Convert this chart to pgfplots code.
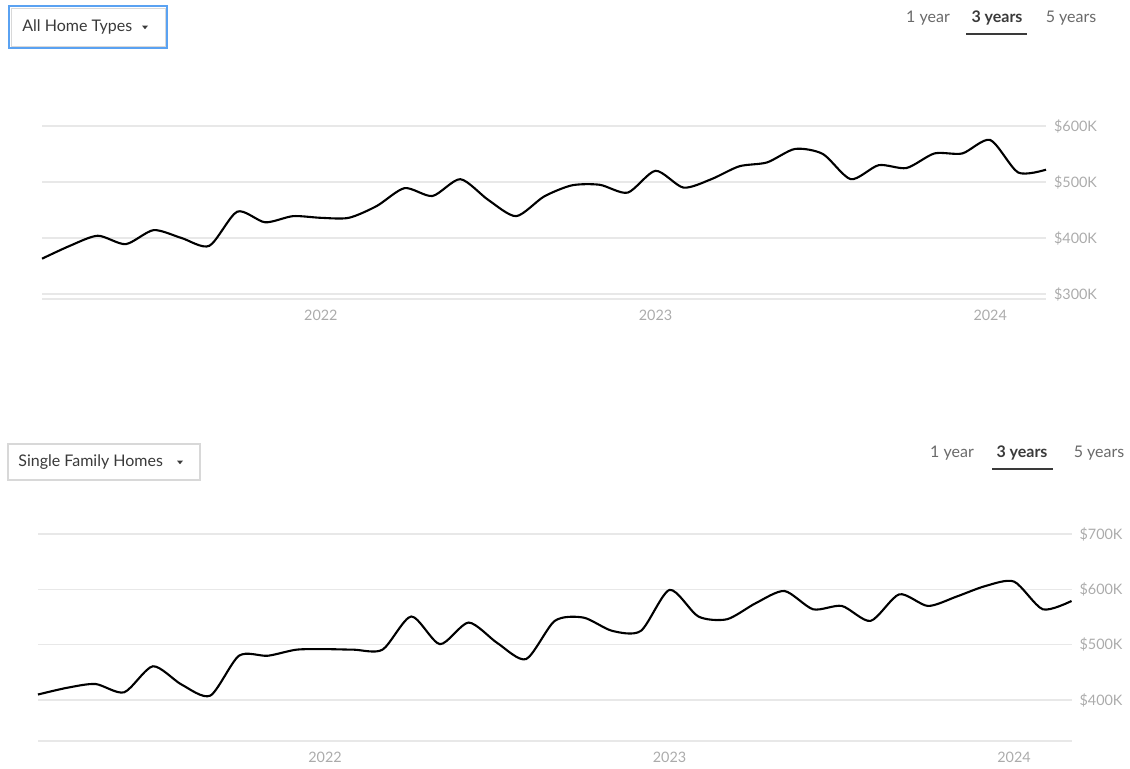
\documentclass[border=0pt]{standalone}
\usepackage{pgfplots}
\pgfplotsset{compat=1.18}
\usepackage{pgfplotstable}
\usepackage{fontspec}
\setmainfont{Lato}
\definecolor{gridc}{HTML}{E8E8E8}
\definecolor{tickc}{HTML}{ABABAB}
\definecolor{btnc}{HTML}{6A6A6A}
\definecolor{darkc}{HTML}{3A3A3A}
\definecolor{blueb}{HTML}{5AA2F2}
\definecolor{grayb}{HTML}{D8D8D8}

\pgfplotstableread{
k v
0 363
1 386
2 404
3 389
4 414
5 400
6 386
7 447
8 428
9 439
10 436
11 436
12 457
13 489
14 475
15 505
16 468
17 439
18 474
19 494
20 495
21 481
22 520
23 490
24 505
25 528
26 535
27 559
28 550
29 505
30 530
31 525
32 551
33 551
34 575
35 517
36 522
}\alltypes

\pgfplotstableread{
k v
0 410
1 422
2 429
3 414
4 461
5 428
6 408
7 480
8 480
9 491
10 492
11 491
12 491
13 551
14 501
15 540
16 503
17 474
18 543
19 549
20 525
21 525
22 599
23 551
24 546
25 575
26 597
27 564
28 570
29 543
30 591
31 570
32 587
33 606
34 614
35 564
36 579
}\single

\pgfplotsset{
  homestyle/.style={
    scale only axis,
    xmin=0, xmax=36,
    xtick={10,22,34},
    xticklabels={2022,2023,2024},
    axis line style={draw=none},
    major tick length=0pt,
    ymajorgrids=true,
    major grid style={color=gridc, line width=0.6pt},
    yticklabel pos=right,
    tick label style={font=\fontsize{7.2}{8}\selectfont, text=tickc},
    yticklabel style={anchor=west, xshift=0.5pt},
    xticklabel style={yshift=-2pt},
    clip=false,
  }
}

\begin{document}
\begin{tikzpicture}
\useasboundingbox (0pt,0pt) rectangle (565pt,384pt);

% ---- top controls ----
\draw[blueb, line width=1pt, fill=white] (4.5pt,381pt) rectangle (83.5pt,360pt);
\draw[grayb, line width=0.4pt] (5.5pt,380pt) rectangle (82.5pt,361pt);
\node[anchor=west, inner sep=0pt, text=darkc, font=\fontsize{8}{9}\selectfont] at (11pt,370.5pt) {All Home Types};
\fill[darkc] (71pt,371.2pt) -- (74pt,371.2pt) -- (72.5pt,369.4pt) -- cycle;
\node[text=btnc, font=\fontsize{8}{9}\selectfont] at (464pt,375pt) {1 year};
\node[text=darkc, font=\bfseries\fontsize{8}{9}\selectfont] at (498.5pt,375pt) {3 years};
\node[text=btnc, font=\fontsize{8}{9}\selectfont] at (535.5pt,375pt) {5 years};
\draw[darkc, line width=1.2pt] (483pt,367pt) -- (513.5pt,367pt);

% ---- top chart ----
\begin{axis}[homestyle,
  at={(21pt,234.5pt)}, anchor=south west,
  width=502pt, height=86.5pt,
  ymin=291, ymax=600,
  ytick={300,400,500,600},
  yticklabels={\$300K,\$400K,\$500K,\$600K},
]
\draw[gridc, line width=0.6pt] (rel axis cs:0,0) -- (rel axis cs:1,0);
\addplot[black, line width=1.05pt, smooth, tension=0.45] table[x=k,y=v] {\alltypes};
\end{axis}

% ---- bottom controls ----
\draw[grayb, line width=0.6pt, fill=white] (4pt,162pt) rectangle (100pt,144pt);
\node[anchor=west, inner sep=0pt, text=darkc, font=\fontsize{8}{9}\selectfont] at (9pt,153pt) {Single Family Homes};
\fill[darkc] (88.5pt,153.7pt) -- (91.5pt,153.7pt) -- (90pt,151.9pt) -- cycle;
\node[text=btnc, font=\fontsize{8}{9}\selectfont] at (476pt,157.5pt) {1 year};
\node[text=darkc, font=\bfseries\fontsize{8}{9}\selectfont] at (511pt,157.5pt) {3 years};
\node[text=btnc, font=\fontsize{8}{9}\selectfont] at (549.5pt,157.5pt) {5 years};
\draw[darkc, line width=1.2pt] (496pt,149.5pt) -- (526.5pt,149.5pt);

% ---- bottom chart ----
\begin{axis}[homestyle,
  at={(19pt,13.5pt)}, anchor=south west,
  width=516.75pt, height=103.5pt,
  ymin=326, ymax=700,
  ytick={400,500,600,700},
  yticklabels={\$400K,\$500K,\$600K,\$700K},
]
\draw[gridc, line width=0.6pt] (rel axis cs:0,0) -- (rel axis cs:1,0);
\addplot[black, line width=1.05pt, smooth, tension=0.45] table[x=k,y=v] {\single};
\end{axis}
\end{tikzpicture}
\end{document}
